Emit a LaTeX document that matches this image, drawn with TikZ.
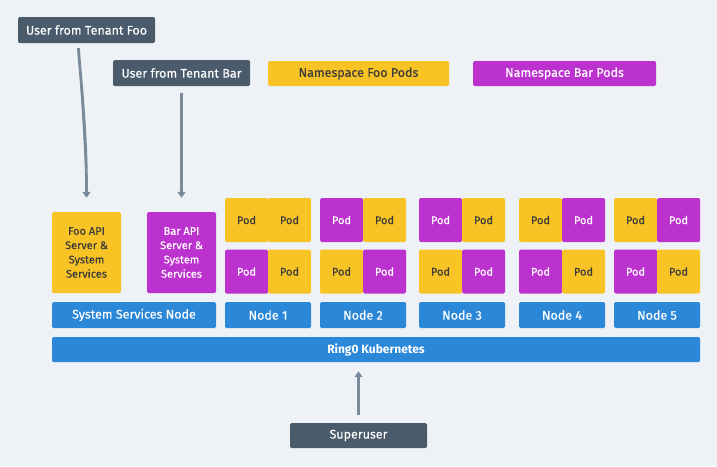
\documentclass[tikz,border=0pt]{standalone}
\usepackage{fontspec}
\setmainfont{Fira Sans}[UprightFeatures={FakeBold=0.3}]
\usetikzlibrary{arrows.meta}
\definecolor{bgcol}{HTML}{EEF2F6}
\definecolor{usercol}{HTML}{4A5B6B}
\definecolor{foocol}{HTML}{F7C325}
\definecolor{barcol}{HTML}{BC32CF}
\definecolor{kubecol}{HTML}{2B88D8}
\definecolor{arrowcol}{HTML}{788A9B}
\definecolor{darktext}{HTML}{3B3B3B}
\begin{document}
\begin{tikzpicture}[x=1pt, y=-1pt,
    box/.style={rectangle, rounded corners=1.5pt, inner sep=0pt, font=\fontsize{12.5}{14}\selectfont},
    user/.style={box, fill=usercol, text=white, minimum width=137, minimum height=26},
    foo/.style={box, fill=foocol, text=darktext},
    bar/.style={box, fill=barcol, text=white},
    kube/.style={box, fill=kubecol, text=white, minimum height=26},
    pod/.style={minimum width=43, minimum height=44, font=\fontsize{11}{12}\selectfont},
    api/.style={minimum width=69, minimum height=81, align=center, font=\fontsize{11}{14.3}\selectfont},
    ns/.style={minimum height=25},
    link/.style={-{Triangle[width=8pt,length=6pt]}, line width=2.8pt, draw=arrowcol, fill=arrowcol}
]
    % Background
    \fill[bgcol] (0,0) rectangle (717,466);

    % Users and legend
    \node[user] (userfoo) at (86.5,30) {User from Tenant Foo};
    \node[user] (userbar) at (181.5,73) {User from Tenant Bar};
    \node[foo, ns, minimum width=181] (nsfoo) at (358.5,73.5) {Namespace Foo Pods};
    \node[bar, ns, minimum width=183] (nsbar) at (564.5,73.5) {Namespace Bar Pods};

    % API servers
    \node[foo, api] (fooapi) at (86.5,252.5) {Foo API\\Server \&\\System\\Services};
    \node[bar, api] (barapi) at (181.5,252.5) {Bar API\\Server \&\\System\\Services};

    % Pods on Node 1
    \node[foo, pod] (p1a) at (246.5,220) {Pod};
    \node[foo, pod] (p1b) at (289.5,220) {Pod};
    \node[bar, pod] (p1c) at (246.5,271.5) {Pod};
    \node[foo, pod] (p1d) at (289.5,271.5) {Pod};

    % Pods on Node 2
    \node[bar, pod] (p2a) at (341.5,220) {Pod};
    \node[foo, pod] (p2b) at (384.5,220) {Pod};
    \node[foo, pod] (p2c) at (341.5,271.5) {Pod};
    \node[bar, pod] (p2d) at (384.5,271.5) {Pod};

    % Pods on Node 3
    \node[bar, pod] (p3a) at (440.5,220) {Pod};
    \node[foo, pod] (p3b) at (483.5,220) {Pod};
    \node[foo, pod] (p3c) at (440.5,271.5) {Pod};
    \node[bar, pod] (p3d) at (483.5,271.5) {Pod};

    % Pods on Node 4
    \node[foo, pod] (p4a) at (540.5,220) {Pod};
    \node[bar, pod] (p4b) at (583.5,220) {Pod};
    \node[bar, pod] (p4c) at (540.5,271.5) {Pod};
    \node[foo, pod] (p4d) at (583.5,271.5) {Pod};

    % Pods on Node 5
    \node[foo, pod] (p5a) at (635.5,220) {Pod};
    \node[bar, pod] (p5b) at (678.5,220) {Pod};
    \node[bar, pod] (p5c) at (635.5,271.5) {Pod};
    \node[foo, pod] (p5d) at (678.5,271.5) {Pod};

    % Cluster nodes
    \node[kube, minimum width=164] (sysnode) at (134,315) {System Services Node};
    \node[kube, minimum width=86] (node1) at (268,315) {Node 1};
    \node[kube, minimum width=86] (node2) at (363,315) {Node 2};
    \node[kube, minimum width=86] (node3) at (462,315) {Node 3};
    \node[kube, minimum width=86] (node4) at (562,315) {Node 4};
    \node[kube, minimum width=86] (node5) at (657,315) {Node 5};
    \node[kube, minimum width=648, minimum height=25, font=\fontsize{12}{14}\selectfont\bfseries] (ring0) at (376,349.5) {Ring0 Kubernetes};

    % Superuser
    \node[user, minimum height=25] (superuser) at (358.5,435.5) {Superuser};

    % Access arrows
    \draw[link, shorten <=5pt, shorten >=14pt] ([xshift=-8.5pt]userfoo.south) .. controls +(3,40) and +(0,-80) .. (fooapi.north);
    \draw[link, shorten <=7pt, shorten >=14pt] (userbar.south) -- (barapi.north);
    \draw[link, shorten <=8pt, shorten >=9pt] (superuser.north) -- (ring0.south -| superuser.north);
\end{tikzpicture}
\end{document}
